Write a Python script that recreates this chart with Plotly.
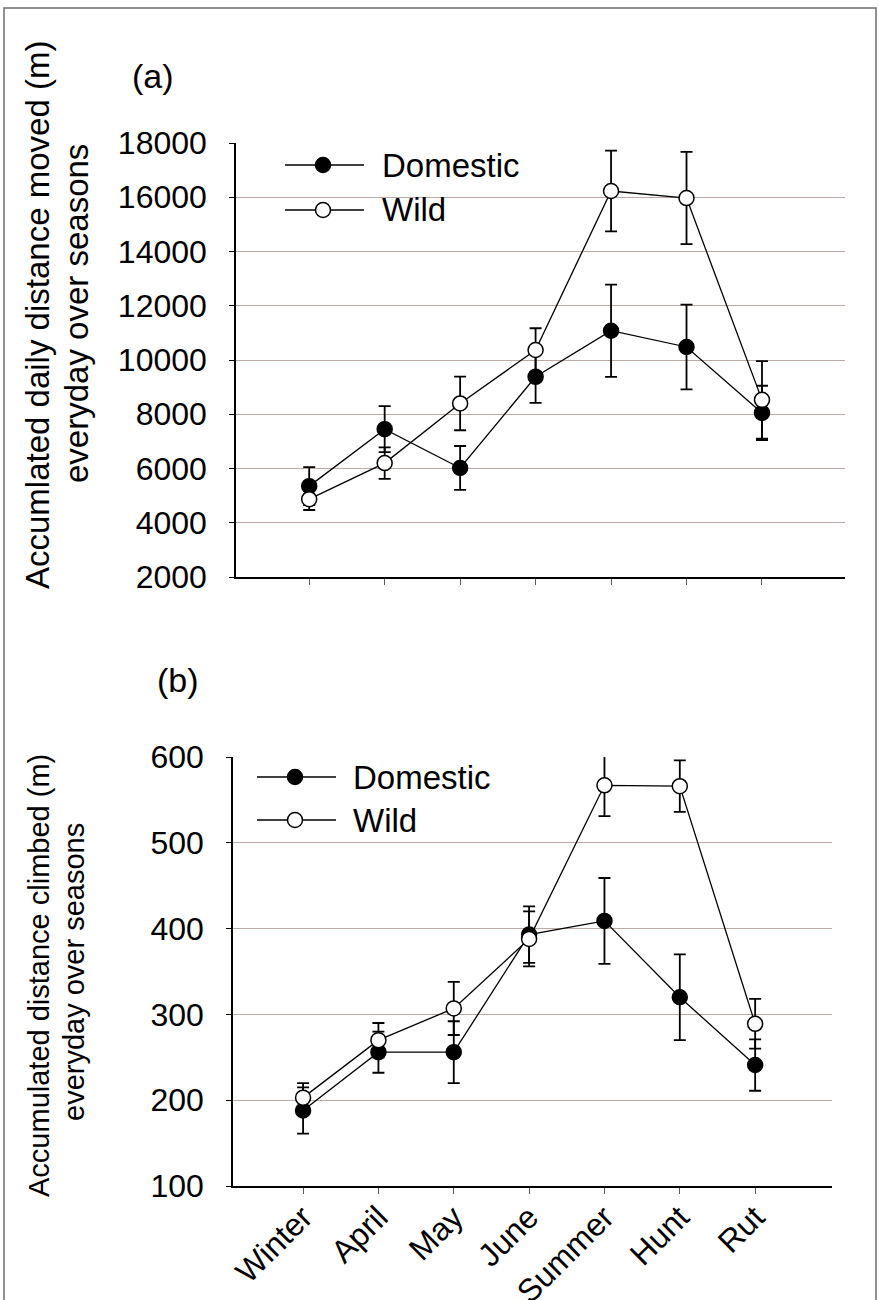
import plotly.graph_objects as go

seasons = ["Winter", "April", "May", "June", "Summer", "Hunt", "Rut"]

dist_dom = [5350, 7450, 6020, 9380, 11080, 10480, 8050]
dist_dom_err = [700, 850, 810, 960, 1700, 1560, 1000]
dist_wild = [4870, 6200, 8400, 10370, 16230, 15970, 8530]
dist_wild_err = [400, 580, 990, 800, 1490, 1700, 1430]

climb_dom = [188, 256, 256, 393, 409, 320, 241]
climb_dom_err = [27, 24, 36, 33, 50, 50, 30]
climb_wild = [203, 270, 307, 388, 567, 566, 289]
climb_wild_err = [17, 20, 31, 32, 36, 30, 29]

dist_ticks = [2000, 4000, 6000, 8000, 10000, 12000, 14000, 16000, 18000]
climb_ticks = [100, 200, 300, 400, 500, 600]

W, H = 879, 1300
FONT = "Liberation Sans, Arial, sans-serif"
GRID = "rgb(188,170,166)"


def fx(x):
    return x / W


def fy(y):
    return 1 - y / H


fig = go.Figure()


def add_series(xa, ya, vals, errs, filled, name):
    fig.add_trace(go.Scatter(
        x=seasons, y=vals, xaxis=xa, yaxis=ya, name=name, showlegend=False,
        mode="lines+markers",
        line=dict(color="black", width=1.3),
        marker=dict(symbol="circle", size=15,
                    color="black" if filled else "white",
                    line=dict(color="black", width=1.5)),
        error_y=dict(type="data", array=errs, visible=True,
                     color="black", thickness=1.8, width=6),
    ))


add_series("x", "y", dist_dom, dist_dom_err, True, "Domestic")
add_series("x", "y", dist_wild, dist_wild_err, False, "Wild")
add_series("x2", "y2", climb_dom, climb_dom_err, True, "Domestic")
add_series("x2", "y2", climb_wild, climb_wild_err, False, "Wild")

tickfont = dict(family=FONT, size=32, color="black")

fig.update_layout(
    width=W, height=H,
    margin=dict(l=0, r=0, t=0, b=0, autoexpand=False),
    paper_bgcolor="white", plot_bgcolor="white",
    showlegend=False,
    font=dict(family=FONT, color="black"),
    xaxis=dict(
        domain=[fx(236), fx(845)], anchor="y", type="category",
        categoryorder="array", categoryarray=seasons, automargin=False,
        range=[-0.97, 7.1], showgrid=False, zeroline=False,
        showline=True, linecolor="black", linewidth=1.5,
        ticks="outside", ticklen=6, tickcolor="rgb(90,90,90)", tickwidth=1,
        showticklabels=False,
    ),
    yaxis=dict(
        domain=[fy(577), fy(143)], anchor="x", automargin=False,
        range=[2000, 18000], tickvals=dist_ticks, tickformat="d",
        showgrid=True, gridcolor=GRID, gridwidth=1, zeroline=False,
        showline=True, linecolor="black", linewidth=1.5,
        ticks="outside", ticklen=5, tickcolor="black", tickwidth=1.2,
        tickfont=tickfont, ticklabelstandoff=16,
    ),
    xaxis2=dict(
        domain=[fx(233), fx(832)], anchor="y2", type="category",
        categoryorder="array", categoryarray=seasons, automargin=False,
        range=[-0.93, 7.02], showgrid=False, zeroline=False,
        showline=True, linecolor="black", linewidth=1.5,
        ticks="outside", ticklen=6, tickcolor="rgb(90,90,90)", tickwidth=1,
        tickangle=-45, tickfont=tickfont, ticklabelstandoff=-8,
    ),
    yaxis2=dict(
        domain=[fy(1186), fy(757)], anchor="x2", automargin=False,
        range=[100, 600], tickvals=climb_ticks, tickformat="d",
        showgrid=True, gridcolor=GRID, gridwidth=1, zeroline=False,
        showline=True, linecolor="black", linewidth=1.5,
        ticks="outside", ticklen=5, tickcolor="black", tickwidth=1.2,
        tickfont=tickfont, ticklabelstandoff=16,
    ),
)

shapes = []
annotations = []

# outer frame
shapes.append(dict(type="rect", xref="paper", yref="paper",
                   x0=fx(4), x1=fx(876), y0=fy(1310), y1=fy(8),
                   line=dict(color="rgb(110,110,110)", width=1.5)))


def legend_item(y, x0, x1, xm, xt, text, filled):
    shapes.append(dict(type="line", xref="paper", yref="paper",
                       x0=fx(x0), x1=fx(x1), y0=fy(y), y1=fy(y),
                       line=dict(color="black", width=1.3)))
    r = 7.5
    shapes.append(dict(type="circle", xref="paper", yref="paper",
                       x0=fx(xm - r), x1=fx(xm + r), y0=fy(y + r), y1=fy(y - r),
                       fillcolor="black" if filled else "white",
                       line=dict(color="black", width=1.5)))
    annotations.append(dict(xref="paper", yref="paper", x=fx(xt), y=fy(y),
                            xanchor="left", yanchor="middle", showarrow=False,
                            text=text, font=dict(family=FONT, size=33, color="black")))


legend_item(165, 285, 364, 323, 380, "Domestic", True)
legend_item(210, 285, 364, 323, 380, "Wild", False)
legend_item(777, 257, 336, 295, 351, "Domestic", True)
legend_item(820, 257, 336, 295, 351, "Wild", False)

annotations.append(dict(xref="paper", yref="paper", x=fx(153), y=fy(76),
                        xanchor="center", yanchor="middle", showarrow=False,
                        text="(a)", font=dict(family=FONT, size=34, color="black")))
annotations.append(dict(xref="paper", yref="paper", x=fx(178), y=fy(680),
                        xanchor="center", yanchor="middle", showarrow=False,
                        text="(b)", font=dict(family=FONT, size=34, color="black")))


def vtitle(x, y, text, size):
    annotations.append(dict(xref="paper", yref="paper", x=fx(x), y=fy(y),
                            xanchor="center", yanchor="middle", showarrow=False,
                            textangle=-90, text=text,
                            font=dict(family=FONT, size=size, color="black")))


vtitle(37, 315, "Accumlated daily distance moved (m)", 33)
vtitle(77, 314, "everyday over seasons", 33)
vtitle(39, 976, "Accumulated distance climbed (m)", 29)
vtitle(74, 972, "everyday over seasons", 29)

fig.update_layout(shapes=shapes, annotations=annotations)

fig.write_html("out.html", config={"displayModeBar": False},
               post_script="document.body.style.margin='0';")
